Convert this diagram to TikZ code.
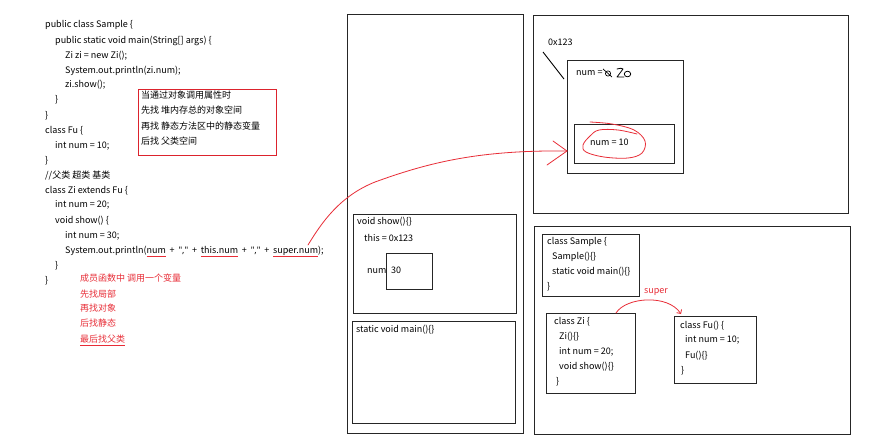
\documentclass[tikz,border=0pt]{standalone}
\usepackage{fontspec}
\setmainfont{Noto Sans CJK SC}
\newfontfamily\latinfont{Noto Sans}
\usetikzlibrary{arrows.meta,fit}
\definecolor{hred}{RGB}{232,45,55}
\definecolor{boxred}{RGB}{220,35,45}
\newcommand\redul[1]{\setbox0\hbox{#1}\rlap{\color{hred}\rule[-2.8pt]{\wd0}{0.7pt}}\box0}
\newcommand\qc{{\latinfont\char34,\char34}}
\begin{document}
\begin{tikzpicture}[x=1pt,y=-1pt,
  box/.style={draw=black!85,line width=1pt,inner sep=0pt},
  rbox/.style={draw=boxred,line width=1pt,inner sep=0pt},
  txt/.style={anchor=west,inner sep=0pt,text height=7pt,text depth=2pt,font=\fontsize{9}{10}\selectfont},
  rtxt/.style={txt,text=hred},
  hand/.style={draw=hred,line width=0.8pt,line cap=round,line join=round}]
\useasboundingbox (0,0) rectangle (888,445);
\fill[white] (0,0) rectangle (888,445);

% ---- source code ----
\node[txt] (c1) at (45,25) {public class Sample \{};
\node[txt] (c2) at (55,41) {public static void main(String[] args) \{};
\node[txt] (c3) at (65,56) {Zi zi = new Zi();};
\node[txt] (c4) at (65,71) {System.out.println(zi.num);};
\node[txt] (c5) at (65,85) {zi.show();};
\node[txt] (c6) at (55,100) {\}};
\node[txt] (c7) at (45,116) {\}};
\node[txt] (c8) at (45,131) {class Fu \{};
\node[txt] (c9) at (55,146) {int num = 10;};
\node[txt] (c10) at (45,161) {\}};
\node[txt] (c11) at (45,176) {//父类 超类 基类};
\node[txt] (c12) at (45,191) {class Zi extends Fu \{};
\node[txt] (c13) at (55,205) {int num = 20;};
\node[txt] (c14) at (55,221) {void show() \{};
\node[txt] (c15) at (65,236) {int num = 30;};
\node[txt] (c16) at (65,251) {\spaceskip=3.8pt System.out.println(\redul{num}\ +\ \qc\ +\ \redul{this.num}\ +\ \qc\ +\ \redul{super.num});};
\node[txt] (c17) at (55,266) {\}};
\node[txt] (c18) at (45,281) {\}};

% red notes under code
\node[rtxt] (r1) at (80,279) {成员函数中 调用一个变量};
\node[rtxt] (r2) at (80,295) {先找局部};
\node[rtxt] (r3) at (80,309) {再找对象};
\node[rtxt] (r4) at (80,324) {后找静态};
\node[rtxt] (r5) at (80,340) {\redul{最后找父类}};

% red-framed note
\node[rbox,fit={(138,89)(276,155)}] (note) {};
\node[txt] (n1) at (141,96) {当通过对象调用属性时};
\node[txt] (n2) at (141,111) {先找 堆内存总的对象空间};
\node[txt] (n3) at (141,127) {再找 静态方法区中的静态变量};
\node[txt] (n4) at (141,142) {后找 父类空间};

% ---- stack ----
\node[box,fit={(347,14)(523,433)}] (stack) {};
\node[box,fit={(353,214)(516,313)}] (showf) {};
\node[txt] (s1) at (357,222) {void show()\{\}};
\node[txt] (s2) at (364,239) {this = 0x123};
\node[txt] (s3) at (367,271) {num};
\node[box,fit={(386,253)(432,289)}] (numbox) {};
\node[txt] (s4) at (391,271) {30};
\node[box,fit={(352,321)(515,423)}] (mainf) {};
\node[txt] (s5) at (356,330) {static void main()\{\}};

% ---- heap ----
\node[box,fit={(533,15)(848,213)}] (heap) {};
\node[txt] (addr) at (548,43) {0x123};
\coordinate (pA) at (543,52);
\coordinate (pB) at (564,79);
\draw[black,line width=0.9pt] (pA) -- (pB);
\node[box,fit={(567,60)(683,173)}] (obj) {};
\node[txt] (o1) at (576,73) {num =};
% handwritten scribble "10 -> 20"
\draw[black,line width=0.7pt] (603,69) -- (612,77);
\draw[black,line width=0.7pt] (608,73.5) ellipse (2.6 and 2.6);
\draw[black,line width=0.8pt,line cap=round,line join=round] (617,69) .. controls (620,68) and (622,68) .. (623,69) -- (617,77) -- (624,77);
\draw[black,line width=0.8pt] (627.5,74) ellipse (3.2 and 2.8);
\node[box,fit={(574,124)(674,163)}] (fuspace) {};
\node[txt] (o2) at (590,143) {num = 10};
% red hand circle
\draw[hand] plot[smooth,tension=0.6] coordinates {(590,122) (612,124) (634,130) (645,141) (642,153) (628,158) (604,157) (586,152) (583,145) (590,136) (599,130) (618,130) (637,134)};

% ---- method area ----
\node[box,fit={(534,226)(850,434)}] (marea) {};
\node[box,fit={(542,234)(639,296)}] (samplecls) {};
\node[txt] (m1) at (547,242) {class Sample \{};
\node[txt] (m2) at (552,257) {Sample()\{\}};
\node[txt] (m3) at (552,272) {static void main()\{\}};
\node[txt] (m4) at (547,287) {\}};
\node[box,fit={(546,313)(635,393)}] (zicls) {};
\node[txt] (z1) at (554,322) {class Zi \{};
\node[txt] (z2) at (559,337) {Zi()\{\}};
\node[txt] (z3) at (559,352) {int num = 20;};
\node[txt] (z4) at (559,367) {void show()\{\}};
\node[txt] (z5) at (556,382) {\}};
\node[box,fit={(674,316)(756,383)}] (fucls) {};
\node[txt] (f1) at (680,326) {class Fu() \{};
\node[txt] (f2) at (685,340) {int num = 10;};
\node[txt] (f3) at (685,356) {Fu()\{\}};
\node[txt] (f4) at (681,371) {\}};

% super arrow
\coordinate (zitop) at (616,313);
\coordinate (futop) at (681,314);
\draw[hand,-{Straight Barb[length=3pt,width=6pt]}] (zitop) .. controls (626,297) and (668,294) .. (futop);
\node[rtxt,anchor=center] (superlbl) at (656,291) {super};

% red arrow from super.num to the object's parent space
\coordinate (superend) at (308,245);
\coordinate (objtip) at (567,151);
\draw[hand] (superend) .. controls (322,222) and (340,196) .. (375,182) .. controls (430,162) and (480,150) .. (objtip);
\draw[hand] (objtip) -- (553,141);
\draw[hand] (objtip) -- (547,165);
\end{tikzpicture}
\end{document}
